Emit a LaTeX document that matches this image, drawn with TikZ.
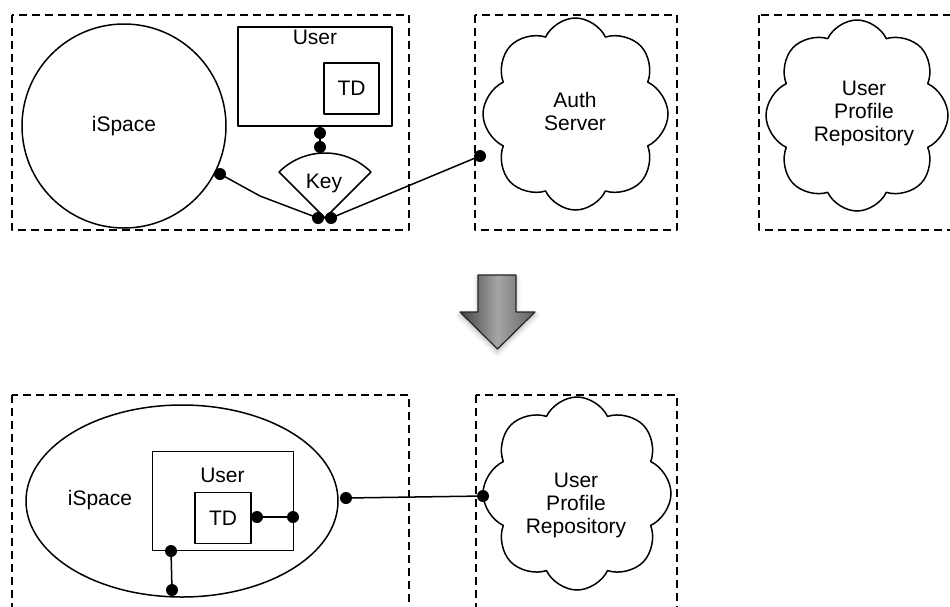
\documentclass[tikz,border=0pt]{standalone}
\usepackage{fontspec}
\setmainfont{Liberation Sans}
\usetikzlibrary{shapes.symbols,shapes.geometric,shadows.blur}
\begin{document}
\begin{tikzpicture}[x=1pt,y=-1pt,line join=round,
  txt/.style={font=\fontsize{21}{23}\selectfont, inner sep=0pt, align=center},
  frame/.style={draw, line width=1.4pt, dash pattern=on 8pt off 5pt},
  outline/.style={draw, line width=1.5pt, inner sep=0pt},
  conn/.style={line width=1.5pt},
  dot/.style={circle, fill=black, inner sep=0pt, minimum size=12pt},
  puffy/.style={cloud, draw, line width=1.5pt, cloud puffs=8, cloud puff arc=130, aspect=1, inner sep=0pt, shape border rotate=10}]
\useasboundingbox (0,0) rectangle (950,606);
% dashed frames
\draw[frame] (12,15) rectangle (409,230);
\draw[frame] (475,15) rectangle (677,230);
\draw[frame] (759,15) rectangle (965,230);
\draw[frame] (12,395) rectangle (409,625);
\draw[frame] (476,395) rectangle (677,625);

% ---------- top ----------
\node[outline, circle, minimum size=204pt] (ispace1) at (124,126) {};
\node[txt, anchor=base] (ispace1t) at (124,131) {iSpace};
\node[outline, minimum width=154pt, minimum height=99pt] (user1) at (315,76.5) {};
\node[txt, anchor=base] (user1t) at (315,44) {User};
\node[outline, minimum width=55pt, minimum height=51pt, txt] (td1) at (351.5,88.5) {TD};
\coordinate (apex) at (325,218);
\draw[line width=1.5pt] (apex) -- ++(225:65) arc (225:315:65) -- cycle;
\node[txt, anchor=base] (key) at (324,188) {Key};
\node[puffy, minimum width=185pt, minimum height=192pt] (auth) at (575.5,114) {};
\node[txt] (autht) at (575,111) {Auth\\Server};
\node[puffy, minimum width=182pt, minimum height=191pt] (upr1) at (857,115.5) {};
\node[txt] (upr1t) at (864,113) {User\\Profile\\Repository};

\node[dot] (du1) at (320,133) {};
\node[dot] (du2) at (320,147) {};
\node[dot] (dis1) at (220,174) {};
\node[dot] (dk1) at (318,218) {};
\node[dot] (dk2) at (331,218) {};
\node[dot] (dauth) at (480,156) {};
\coordinate (bend) at (260,196);
\draw[conn] (du1) -- (du2);
\draw[conn] (dis1.center) -- (bend) -- (dk1.center);
\draw[conn] (dk2.center) -- (dauth.center);

% ---------- arrow ----------
\path[draw=black!85, line width=1.2pt, left color=black!75, right color=black!62, middle color=black!35,
  blur shadow={shadow xshift=0pt, shadow yshift=-3pt, shadow blur radius=5pt, shadow opacity=30}]
  (478,275) -- (516,275) -- (516,312) -- (535,312) -- (497.5,349) -- (460,312) -- (478,312) -- cycle;

% ---------- bottom ----------
\node[outline, ellipse, minimum width=312pt, minimum height=192pt] (ispace2) at (182,501) {};
\node[txt, anchor=base] (ispace2t) at (100,505) {iSpace};
\node[outline, minimum width=141pt, minimum height=99pt] (user2) at (222.8,501.2) {};
\node[txt, anchor=base] (user2t) at (222.5,482) {User};
\node[outline, minimum width=56pt, minimum height=51pt, txt] (td2) at (223,517.8) {TD};
\node[puffy, minimum width=188pt, minimum height=193pt] (upr2) at (577,493.5) {};
\node[txt] (upr2t) at (576,505) {User\\Profile\\Repository};

\node[dot] (dtd) at (257,517) {};
\node[dot] (dub) at (293,517) {};
\node[dot] (dub2) at (171,551) {};
\node[dot] (del) at (172,590) {};
\node[dot] (dis2) at (346,498) {};
\node[dot] (dcl) at (483,496) {};
\draw[conn] (dtd) -- (dub);
\draw[conn] (dub2) -- (del);
\draw[conn] (dis2) -- (dcl);
\end{tikzpicture}
\end{document}
